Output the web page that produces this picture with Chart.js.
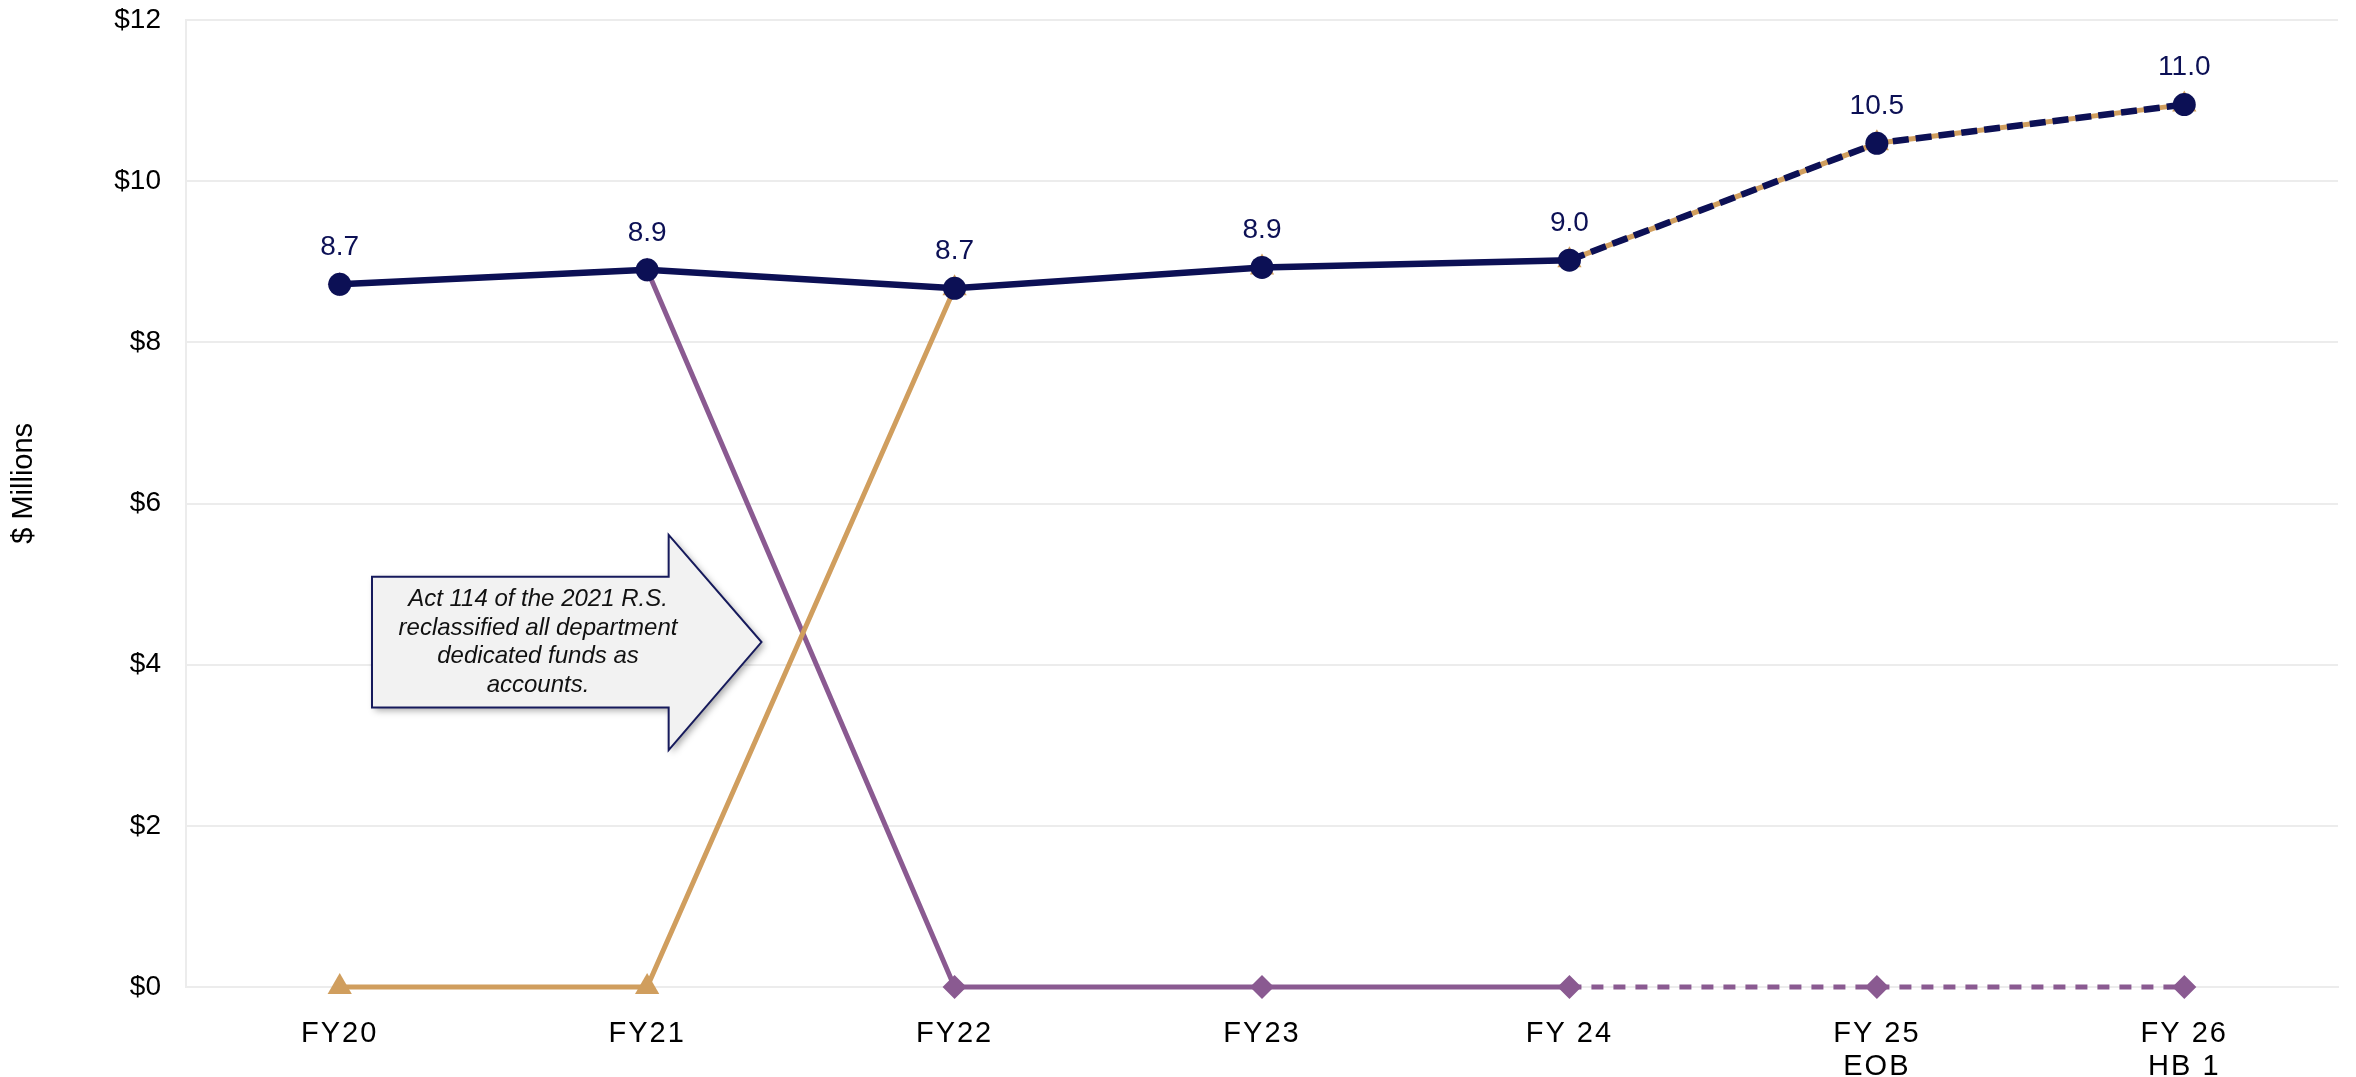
<!DOCTYPE html>
<html>
<head>
<meta charset="utf-8">
<script src="https://cdn.jsdelivr.net/npm/chart.js@4.4.1/dist/chart.umd.min.js"></script>
<style>
  html, body { margin: 0; padding: 0; background: #ffffff; }
  #wrap { width: 2356px; height: 1077px; position: relative; }
</style>
</head>
<body>
<div id="wrap"><canvas id="c" width="2356" height="1077"></canvas></div>
<script>
const categories = ["FY20", "FY21", "FY22", "FY23", "FY 24", ["FY 25", "EOB"], ["FY 26", "HB 1"]];
const totalValues = [8.72, 8.90, 8.67, 8.93, 9.02, 10.47, 10.95];
const totalLabels = ["8.7", "8.9", "8.7", "8.9", "9.0", "10.5", "11.0"];
const dedicatedFundsValues = [8.72, 8.90, 0, 0, 0, 0, 0];
const accountsValues = [0, 0, 8.67, 8.93, 9.02, 10.47, 10.95];
const yTickValues = [0, 2, 4, 6, 8, 10, 12];
const yAxisTitle = "$ Millions";
const calloutLines = ["Act 114 of the 2021 R.S.", "reclassified all department", "dedicated funds as", "accounts."];

const NAVY = "#0c1055";
const PURPLE = "#8a5a91";
const TAN = "#d09e5e";
const GRID = "#ececec";
const FONT = "'Liberation Sans', Arial, sans-serif";
const projectedFrom = 4;

const dashAfter = (pattern) => (ctx) => ctx.p0DataIndex >= projectedFrom ? pattern : undefined;

const spacedXLabels = {
  id: "spacedXLabels",
  beforeDraw(chart) {
    const xs = chart.scales.x;
    if (xs._patched) return;
    const proto = Object.getPrototypeOf(xs);
    xs.drawLabels = function (area) {
      const ctx = this.ctx;
      ctx.save();
      ctx.letterSpacing = "2px";
      proto.drawLabels.call(this, area);
      ctx.restore();
    };
    xs._patched = true;
  }
};

const yTitle = {
  id: "yTitle",
  afterDraw(chart) {
    const ys = chart.scales.y;
    const ctx = chart.ctx;
    ctx.save();
    ctx.translate(24, ys.getPixelForValue(6.25));
    ctx.rotate(-Math.PI / 2);
    ctx.font = "29px " + FONT;
    ctx.fillStyle = "#000000";
    ctx.textAlign = "center";
    ctx.textBaseline = "middle";
    ctx.fillText(yAxisTitle, 0, 0);
    ctx.restore();
  }
};

const valueLabels = {
  id: "valueLabels",
  afterDatasetsDraw(chart) {
    const meta = chart.getDatasetMeta(0);
    const ctx = chart.ctx;
    ctx.save();
    ctx.font = "28px " + FONT;
    ctx.fillStyle = NAVY;
    ctx.textAlign = "center";
    ctx.textBaseline = "middle";
    meta.data.forEach((pt, i) => {
      ctx.fillText(totalLabels[i], pt.x, pt.y - 37);
    });
    ctx.restore();
  }
};

const callout = {
  id: "callout",
  afterDatasetsDraw(chart) {
    const xs = chart.scales.x, ys = chart.scales.y;
    const px = (v) => xs.getPixelForValue(v);
    const py = (v) => ys.getPixelForValue(v);
    const left = px(0.105), neck = px(1.07), tip = px(1.372);
    const bTop = py(5.09), bBot = py(3.47), hTop = py(5.61), hBot = py(2.94);
    const mid = (bTop + bBot) / 2;
    const ctx = chart.ctx;
    ctx.save();
    ctx.beginPath();
    ctx.moveTo(left, bTop);
    ctx.lineTo(neck, bTop);
    ctx.lineTo(neck, hTop);
    ctx.lineTo(tip, mid);
    ctx.lineTo(neck, hBot);
    ctx.lineTo(neck, bBot);
    ctx.lineTo(left, bBot);
    ctx.closePath();
    ctx.shadowColor = "rgba(0,0,0,0.35)";
    ctx.shadowBlur = 7;
    ctx.shadowOffsetX = 3;
    ctx.shadowOffsetY = 3;
    ctx.fillStyle = "#f2f2f2";
    ctx.fill();
    ctx.shadowColor = "transparent";
    ctx.lineWidth = 2;
    ctx.strokeStyle = "#161a5c";
    ctx.stroke();
    ctx.font = "italic 24px " + FONT;
    ctx.fillStyle = "#111111";
    ctx.textAlign = "center";
    ctx.textBaseline = "middle";
    const cx = px(0.645);
    const lh = 28.5;
    const startY = mid - lh * (calloutLines.length - 1) / 2;
    calloutLines.forEach((t, i) => ctx.fillText(t, cx, startY + i * lh));
    ctx.restore();
  }
};

new Chart(document.getElementById("c"), {
  type: "line",
  data: {
    labels: categories,
    datasets: [
      {
        label: "Total",
        data: totalValues,
        borderColor: NAVY,
        backgroundColor: NAVY,
        borderWidth: 6.5,
        pointStyle: "circle",
        pointRadius: 11.5,
        pointBorderWidth: 0,
        pointBackgroundColor: NAVY,
        segment: { borderDash: dashAfter([16, 7]) },
        clip: false,
        order: 0
      },
      {
        label: "Accounts",
        data: accountsValues,
        borderColor: TAN,
        backgroundColor: TAN,
        borderWidth: 5,
        pointStyle: "triangle",
        pointRadius: 14,
        pointBorderWidth: 0,
        pointBackgroundColor: TAN,
        clip: false,
        order: 1
      },
      {
        label: "Dedicated Funds",
        data: dedicatedFundsValues,
        borderColor: PURPLE,
        backgroundColor: PURPLE,
        borderWidth: 5,
        pointStyle: "rectRot",
        pointRadius: 12,
        pointBorderWidth: 0,
        pointBackgroundColor: PURPLE,
        segment: { borderDash: dashAfter([12, 10]) },
        clip: false,
        order: 2
      }
    ]
  },
  options: {
    responsive: false,
    animation: false,
    devicePixelRatio: 1,
    layout: { autoPadding: false, padding: { left: 0, right: 18, top: 20, bottom: 0 } },
    plugins: {
      legend: { display: false },
      tooltip: { enabled: false },
      title: { display: false }
    },
    elements: { line: { tension: 0 } },
    scales: {
      x: {
        offset: true,
        grid: { display: false, drawTicks: false },
        border: { display: true, color: GRID, width: 2 },
        ticks: {
          color: "#000000",
          font: { family: FONT, size: 29, lineHeight: 33 / 29 },
          padding: 30,
          maxRotation: 0,
          autoSkip: false
        },
        afterFit(scale) { scale.height = 90; }
      },
      y: {
        min: 0,
        max: 12,
        afterBuildTicks(scale) { scale.ticks = yTickValues.map(v => ({ value: v })); },
        grid: { color: GRID, lineWidth: 2, drawTicks: false },
        border: { display: true, color: GRID, width: 2 },
        ticks: {
          color: "#000000",
          font: { family: FONT, size: 28 },
          padding: 25,
          callback: (v) => "$" + v
        },
        title: { display: false },
        afterFit(scale) {
          scale.width = 186;
          scale.paddingTop = 0;
          scale.paddingBottom = 0;
        }
      }
    }
  },
  plugins: [spacedXLabels, valueLabels, callout, yTitle]
});
</script>
</body>
</html>
